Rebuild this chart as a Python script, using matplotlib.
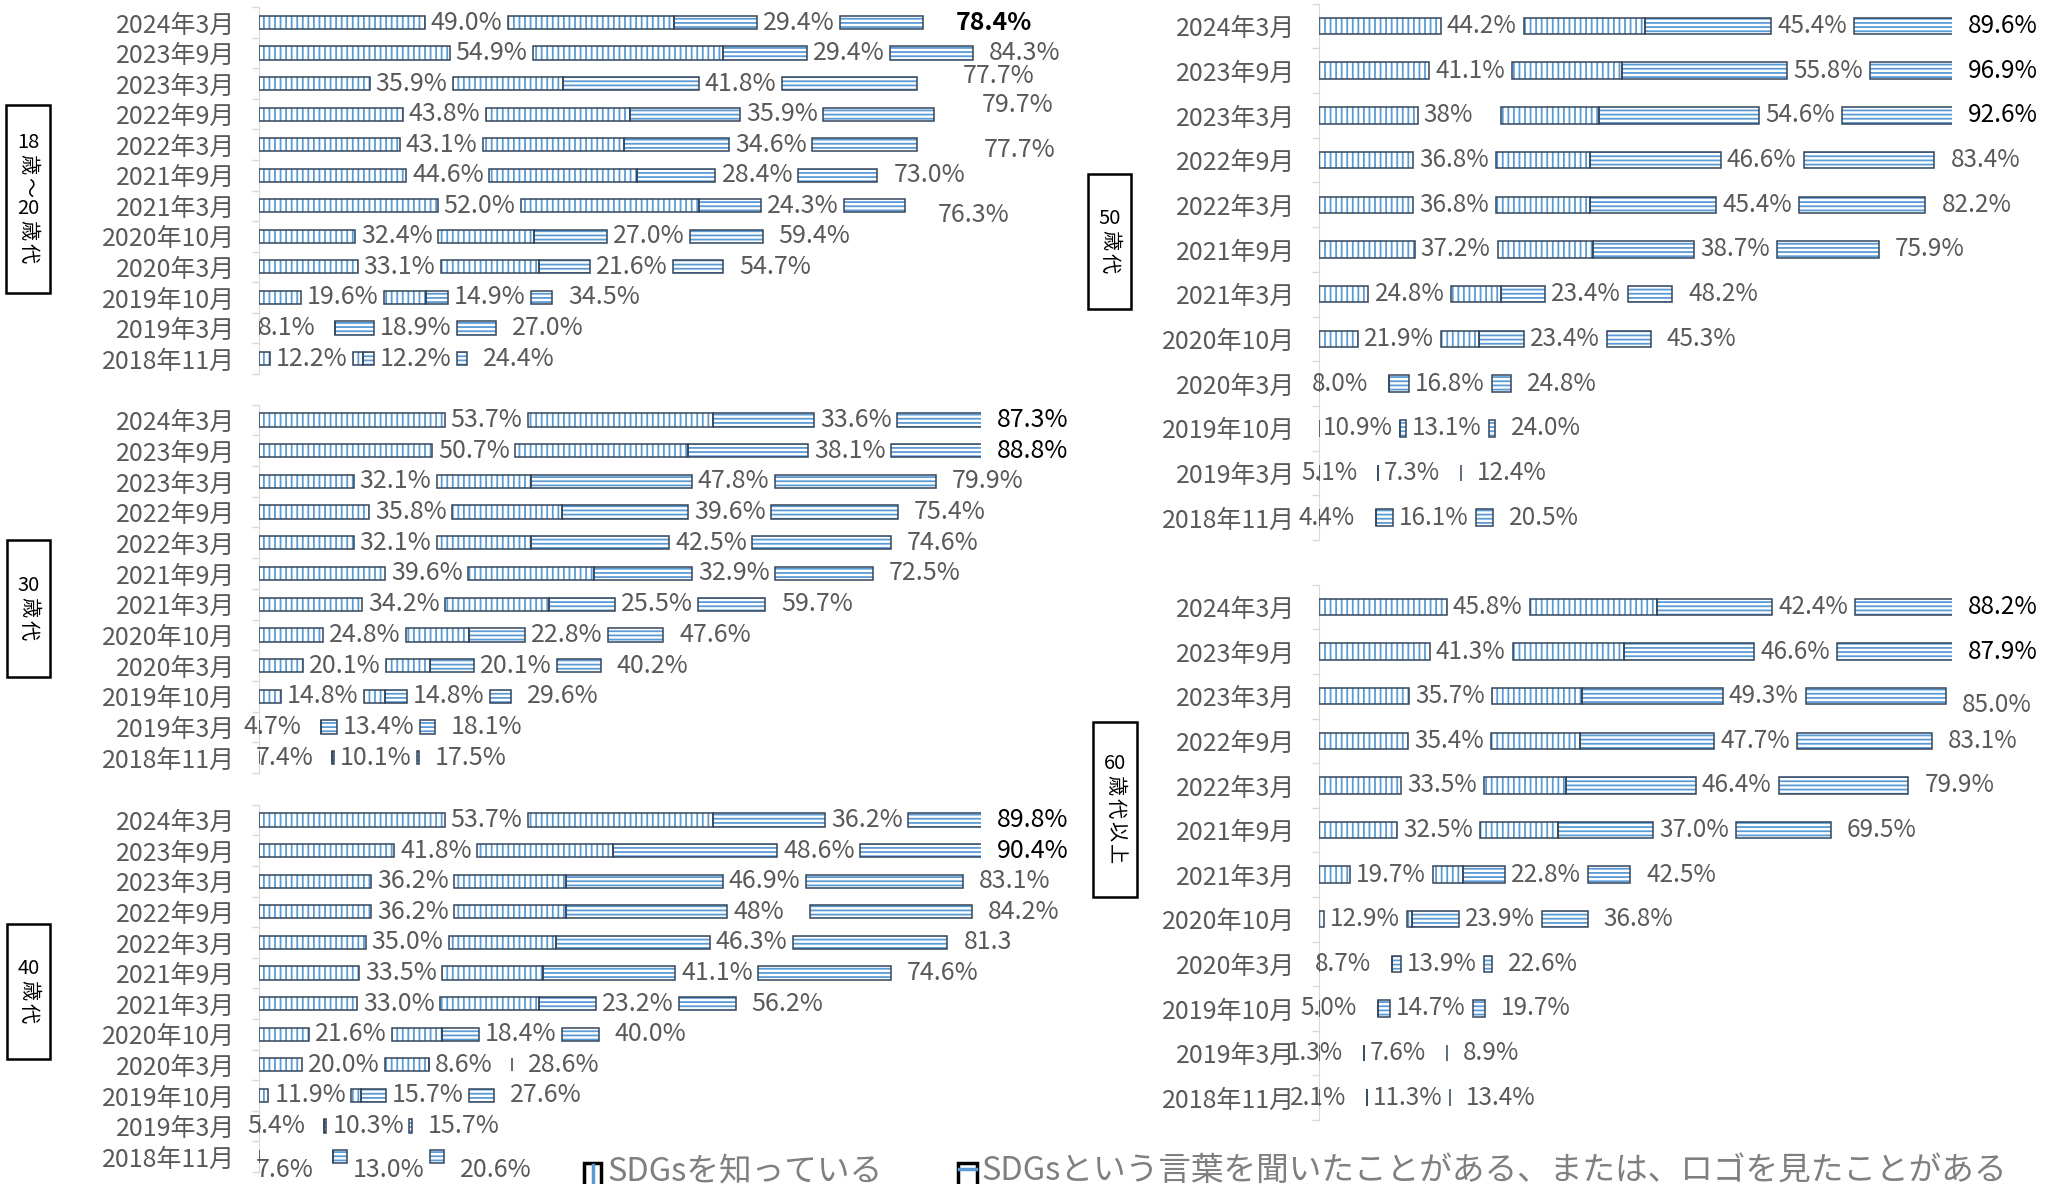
import numpy as np
import matplotlib
matplotlib.use("Agg")
import matplotlib.pyplot as plt
from matplotlib.patches import Rectangle

plt.rcParams['font.family'] = ['Noto Sans CJK JP', 'DejaVu Sans']
plt.rcParams['hatch.linewidth'] = 1.3

W, H, DPI = 2056, 1184, 100

# ---- data (rows top to bottom) ----
periods = ['2024年3月', '2023年9月', '2023年3月', '2022年9月', '2022年3月', '2021年9月',
           '2021年3月', '2020年10月', '2020年3月', '2019年10月', '2019年3月', '2018年11月']

know_18_20 = [49.0, 54.9, 35.9, 43.8, 43.1, 44.6, 52.0, 32.4, 33.1, 19.6, 8.1, 12.2]
heard_18_20 = [29.4, 29.4, 41.8, 35.9, 34.6, 28.4, 24.3, 27.0, 21.6, 14.9, 18.9, 12.2]
total_18_20 = [78.4, 84.3, 77.7, 79.7, 77.7, 73.0, 76.3, 59.4, 54.7, 34.5, 27.0, 24.4]

know_30 = [53.7, 50.7, 32.1, 35.8, 32.1, 39.6, 34.2, 24.8, 20.1, 14.8, 4.7, 7.4]
heard_30 = [33.6, 38.1, 47.8, 39.6, 42.5, 32.9, 25.5, 22.8, 20.1, 14.8, 13.4, 10.1]
total_30 = [87.3, 88.8, 79.9, 75.4, 74.6, 72.5, 59.7, 47.6, 40.2, 29.6, 18.1, 17.5]

know_40 = [53.7, 41.8, 36.2, 36.2, 35.0, 33.5, 33.0, 21.6, 20.0, 11.9, 5.4, 7.6]
heard_40 = [36.2, 48.6, 46.9, 48.0, 46.3, 41.1, 23.2, 18.4, 8.6, 15.7, 10.3, 13.0]
total_40 = [89.8, 90.4, 83.1, 84.2, 81.3, 74.6, 56.2, 40.0, 28.6, 27.6, 15.7, 20.6]

know_50 = [44.2, 41.1, 38.0, 36.8, 36.8, 37.2, 24.8, 21.9, 8.0, 10.9, 5.1, 4.4]
heard_50 = [45.4, 55.8, 54.6, 46.6, 45.4, 38.7, 23.4, 23.4, 16.8, 13.1, 7.3, 16.1]
total_50 = [89.6, 96.9, 92.6, 83.4, 82.2, 75.9, 48.2, 45.3, 24.8, 24.0, 12.4, 20.5]

know_60 = [45.8, 41.3, 35.7, 35.4, 33.5, 32.5, 19.7, 12.9, 8.7, 5.0, 1.3, 2.1]
heard_60 = [42.4, 46.6, 49.3, 47.7, 46.4, 37.0, 22.8, 23.9, 13.9, 14.7, 7.6, 11.3]
total_60 = [88.2, 87.9, 85.0, 83.1, 79.9, 69.5, 42.5, 36.8, 22.6, 19.7, 8.9, 13.4]

legend_labels = ['SDGsを知っている', 'SDGsという言葉を聞いたことがある、または、ロゴを見たことがある']

# label text that differs from plain "x.x%"
label_text = {('40', 'h', 3): '48%', ('40', 't', 4): '81.3', ('50', 'k', 2): '38%'}
# totals drawn in black
black_totals = {'18': [0], '30': [0, 1], '40': [0, 1], '50': [0, 1, 2], '60': [0, 1]}
# stray label offsets (px right, px down)
label_shift = {('18', 't', 0): (17, 0), ('18', 't', 2): (30, -8), ('18', 't', 3): (32, -9),
               ('18', 't', 4): (51, 5), ('18', 't', 6): (17, 9), ('60', 't', 2): (0, 9),
               ('40', 'k', 11): (0, 13), ('40', 'h', 11): (0, 13), ('40', 't', 11): (0, 13)}

BLUE = '#5b9bd5'
EDGE = '#33455c'
GREY = '#595959'

fig = plt.figure(figsize=(W / DPI, H / DPI), dpi=DPI)
fig.patch.set_facecolor('white')


def hbar(ax, y, left, width, hatch, h):
    ax.barh(y, width, left=left, height=h, color='white', edgecolor=BLUE,
            linewidth=0, hatch=hatch, zorder=2)
    ax.barh(y, width, left=left, height=h, fill=False, edgecolor=EDGE,
            linewidth=1.1, zorder=3)


def label(ax, key, kind, i, x, pad, fs, color=GREY, weight='normal'):
    txt = label_text.get((key, kind, i), '{:.1f}%'.format(x[1]))
    dx, dy = label_shift.get((key, kind, i), (0, 0))
    ax.annotate(txt, (x[0], i), xytext=(pad + dx, -dy), textcoords='offset pixels',
                ha='left', va='center', fontsize=fs, color=color, fontweight=weight,
                annotation_clip=False)


def panel(key, know, heard, total, x0, x1, y_first, step, px_per, cut, bar_h, fs):
    n = len(periods)
    top = y_first - step / 2
    ax = fig.add_axes([x0 / W, 1 - (top + n * step) / H, (x1 - x0) / W, n * step / H])
    ax.set_facecolor('none')
    xmax = cut + (x1 - x0) / px_per
    ax.set_xlim(cut, xmax)
    ax.set_ylim(n - 0.5, -0.5)
    gap = 83 / px_per

    y = np.arange(n)
    k = np.array(know)
    h = np.array(heard)
    wk = np.clip(k - cut, 0, None)
    wh = np.clip(h - cut, 0, None)
    b_left = k + gap
    b_mid = b_left + wk
    b_end = b_mid + wh
    c_left = b_end + gap
    c_end = c_left + wh

    hbar(ax, y, cut, wk, '|||', bar_h)
    hbar(ax, y, b_left, wk, '|||', bar_h)
    hbar(ax, y, b_mid, wh, '----', bar_h)
    hbar(ax, y, c_left, wh, '----', bar_h)

    for i in range(n):
        label(ax, key, 'k', i, (k[i], know[i]), 6, fs)
        label(ax, key, 'h', i, (b_end[i], heard[i]), 6, fs)
        black = i in black_totals[key]
        label(ax, key, 't', i, (min(c_end[i], xmax), total[i]), 16, fs,
              color='black' if black else GREY,
              weight='bold' if (black and key == '18') else 'normal')

    ax.set_yticks(y, labels=periods)
    ax.set_yticks(np.arange(-0.5, n), minor=True)
    ax.tick_params(axis='y', which='major', length=0, pad=17, labelsize=18, labelcolor=GREY)
    ax.tick_params(axis='y', which='minor', length=5, color='#d9d9d9', width=1)
    ax.set_xticks([])
    for s in ['top', 'right', 'bottom']:
        ax.spines[s].set_visible(False)
    ax.spines['left'].set_color('#d9d9d9')
    return ax


# left column
panel('18', know_18_20, heard_18_20, total_18_20, 259, 981, 22.5, 30.55, 4.22, 9.7, 0.43, 18)
panel('30', know_30, heard_30, total_30, 259, 981, 420, 30.7, 4.22, 9.7, 0.43, 18)
panel('40', know_40, heard_40, total_40, 259, 981, 820, 30.6, 4.22, 9.7, 0.43, 18)
# right column
panel('50', know_50, heard_50, total_50, 1319, 1952, 26, 44.7, 3.72, 11.5, 0.37, 17.5)
panel('60', know_60, heard_60, total_60, 1319, 1952, 607, 44.6, 3.72, 11.5, 0.37, 17.5)

# overlay in pixel coords for group boxes and legend
ov = fig.add_axes([0, 0, 1, 1])
ov.set_xlim(0, W)
ov.set_ylim(H, 0)
ov.axis('off')


def group_box(x0, x1, y0, y1, tokens):
    ov.add_patch(Rectangle((x0, y0), x1 - x0, y1 - y0, fill=False, ec='black', lw=1.8))
    sizes = [20 if t.isdigit() else 23 for t in tokens]
    yy = (y0 + y1) / 2 - sum(sizes) / 2
    for t, s in zip(tokens, sizes):
        rot = 0 if t.isdigit() else -90
        ov.text((x0 + x1) / 2, yy + s / 2, t, rotation=rot, rotation_mode='anchor',
                ha='center', va='center', fontsize=14.5, color='black')
        yy += s


group_box(6, 50, 105, 293, ['18', '歳', '～', '20', '歳', '代'])
group_box(7, 50, 540, 677, ['30', '歳', '代'])
group_box(7, 50, 924, 1059, ['40', '歳', '代'])
group_box(1088, 1131, 174, 309, ['50', '歳', '代'])
group_box(1093, 1137, 722, 897, ['60', '歳', '代', '以', '上'])

# legend
ov.add_patch(Rectangle((584, 1163), 17, 23, facecolor='white', ec='black', lw=2.5))
ov.plot([592.5, 592.5], [1165, 1184], color=BLUE, lw=2.5)
ov.text(607, 1171, legend_labels[0], ha='left', va='center', fontsize=23.5, color='#7f7f7f')
ov.add_patch(Rectangle((958, 1163), 19, 23, facecolor='white', ec='black', lw=2.5))
ov.plot([959, 976], [1169, 1169], color=BLUE, lw=2.5)
ov.text(981, 1171, legend_labels[1], ha='left', va='center', fontsize=23.5, color='#7f7f7f')

fig.savefig('out.png', dpi=DPI)
